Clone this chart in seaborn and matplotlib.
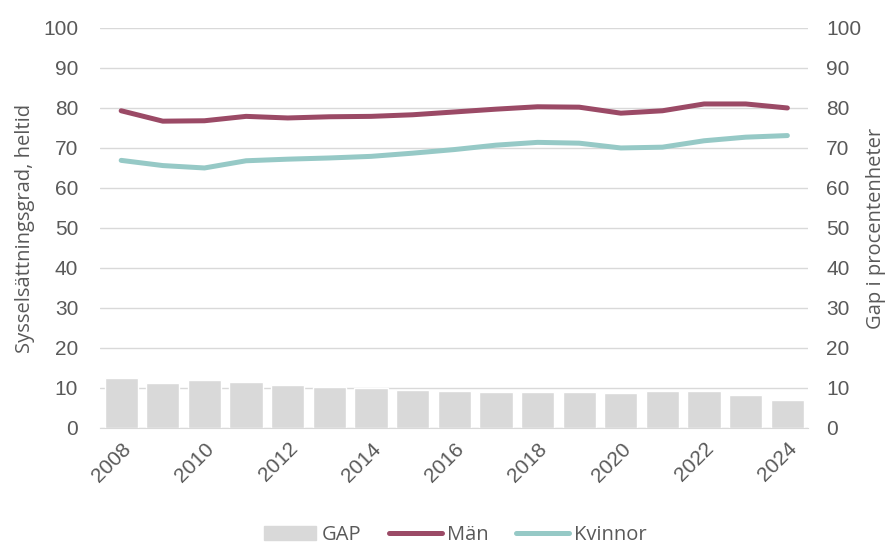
import matplotlib
matplotlib.use("Agg")
import matplotlib.pyplot as plt
import numpy as np
import pandas as pd
import seaborn as sns
from matplotlib.patches import Patch
from matplotlib.lines import Line2D

years = [str(y) for y in range(2008, 2025)]
man = [79.3, 76.7, 76.8, 77.9, 77.5, 77.8, 77.9, 78.3, 79.0, 79.7, 80.3, 80.2,
       78.7, 79.3, 81.0, 81.0, 80.0]
kvinnor = [66.9, 65.6, 65.0, 66.8, 67.2, 67.5, 67.9, 68.7, 69.6, 70.7, 71.4,
           71.2, 70.0, 70.2, 71.8, 72.7, 73.1]
gap = [12.5, 11.3, 12.1, 11.4, 10.7, 10.3, 10.0, 9.4, 9.2, 9.0, 9.0, 9.1,
       8.7, 9.2, 9.3, 8.3, 6.9]

C_MAN = "#9B4A66"
C_KV = "#96C9C6"
C_GAP = "#D9D9D9"
TXT = "#595959"
LABEL_FONT = ["Open Sans", "DejaVu Sans"]

df = pd.DataFrame({"År": years, "Män": man, "Kvinnor": kvinnor, "GAP": gap})
df["pos"] = np.arange(len(df))

sns.set_style("white")
plt.rcParams["font.family"] = ["Liberation Sans", "DejaVu Sans"]

fig = plt.figure(figsize=(8.96, 5.45), dpi=100)
ax2 = fig.add_axes([0.112, 0.2147, 0.79, 0.734])
ax = ax2.twinx()

# GAP bars on the secondary axis, drawn behind
sns.barplot(data=df, x="År", y="GAP", color=C_GAP, width=0.8, saturation=1,
            ax=ax2, zorder=2)
ax2.set_ylim(0, 100)
ax2.set_yticks(range(0, 101, 10))
ax2.yaxis.grid(True, color="#D9D9D9", linewidth=1)
ax2.set_axisbelow(True)

# employment lines on the primary axis, on top
sns.lineplot(data=df, x="pos", y="Män", color=C_MAN, linewidth=3.6, ax=ax,
             label="Män")
sns.lineplot(data=df, x="pos", y="Kvinnor", color=C_KV, linewidth=3.6, ax=ax,
             label="Kvinnor")
ax.set_ylim(0, 100)
ax.set_yticks(range(0, 101, 10))
ax.set_xlim(-0.5, len(df) - 0.5)
ax.legend_.remove()

ax.yaxis.tick_left()
ax.yaxis.set_label_position("left")
ax2.yaxis.tick_right()
ax2.yaxis.set_label_position("right")
ax.set_zorder(ax2.get_zorder() + 1)
ax.patch.set_visible(False)

for a in (ax, ax2):
    for s in a.spines.values():
        s.set_visible(False)
    a.tick_params(axis="y", length=0, labelsize=15, colors=TXT)
ax.tick_params(axis="y", pad=16)
ax2.tick_params(axis="y", pad=13)
ax2.spines["bottom"].set_visible(True)
ax2.spines["bottom"].set_color("#D9D9D9")

ax.set_ylabel("Sysselsättningsgrad, heltid", fontsize=14.5, color=TXT,
              family=LABEL_FONT, labelpad=6)
ax2.set_ylabel("Gap i procentenheter", fontsize=14.5, color=TXT,
               family=LABEL_FONT, labelpad=3)
ax.set_xlabel("")
ax2.set_xlabel("")

ticks = list(range(0, len(df), 2))
ax2.set_xticks(ticks)
ax2.set_xticklabels([years[i] for i in ticks], rotation=45, ha="right",
                    rotation_mode="anchor", fontsize=15, color=TXT)
ax2.tick_params(axis="x", length=0, pad=8)
ax.tick_params(axis="x", length=0, labelbottom=False)

handles = [Patch(color=C_GAP, label="GAP"),
           Line2D([], [], color=C_MAN, linewidth=3.6, label="Män"),
           Line2D([], [], color=C_KV, linewidth=3.6, label="Kvinnor")]
fig.legend(handles=handles, loc="center", bbox_to_anchor=(0.508, 0.018),
           ncol=3, frameon=False, prop={"family": LABEL_FONT, "size": 14.5},
           labelcolor=TXT, handlelength=2.6, handletextpad=0.25,
           columnspacing=1.4)

fig.savefig("out.png", dpi=100)
